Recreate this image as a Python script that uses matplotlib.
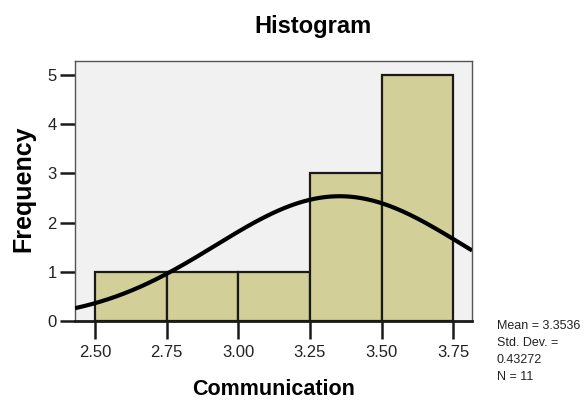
import numpy as np
import matplotlib.pyplot as plt

# histogram of Communication scores (SPSS style)
bin_edges = [2.50, 2.75, 3.00, 3.25, 3.50, 3.75]
counts = [1, 1, 1, 3, 5]
mean, sd, n = 3.3536, 0.43272, 11
xticks = [2.50, 2.75, 3.00, 3.25, 3.50, 3.75]
yticks = [0, 1, 2, 3, 4, 5]

plt.rcParams['font.family'] = ['Liberation Sans', 'DejaVu Sans']

fig = plt.figure(figsize=(5.84, 4.01), dpi=100)
ax = fig.add_axes((0.1284, 0.1995, 0.680, 0.648))
ax.set_facecolor("#f1f1f1")

lefts = bin_edges[:-1]
widths = np.diff(bin_edges)
ax.bar(lefts, counts, width=widths, align="edge", color="#d3cf99",
       edgecolor="#1a1a1a", linewidth=1.6, zorder=2)

# normal curve from the stated mean / sd, scaled to the bin width
xs = np.linspace(2.43, 3.816, 300)
bw = widths[0]
ys = n * bw / (sd * np.sqrt(2 * np.pi)) * np.exp(-0.5 * ((xs - mean) / sd) ** 2)
ax.plot(xs, ys, color="black", linewidth=3, zorder=3, solid_capstyle="butt")

ax.set_xlim(2.43, 3.816)
ax.set_ylim(0, 5.28)
ax.set_xticks(xticks)
ax.set_xticklabels([f"{t:.2f}" for t in xticks])
ax.set_yticks(yticks)
ax.tick_params(axis="x", direction="out", length=13, width=1.8, color="#1a1a1a",
               labelsize=12, pad=4, labelcolor="#222222")
ax.tick_params(axis="y", direction="out", length=11, width=1.8, color="#1a1a1a",
               labelsize=12, pad=2, labelcolor="#222222")

for side in ("top", "right", "left"):
    ax.spines[side].set_color("#555555")
    ax.spines[side].set_linewidth(1.0)
ax.spines["bottom"].set_color("#1a1a1a")
ax.spines["bottom"].set_linewidth(2.0)

fig.text(0.536, 0.935, "Histogram", fontsize=17, fontweight="bold",
         ha="center", va="center")
ax.set_xlabel("Communication", fontsize=15.5, fontweight="bold")
ax.xaxis.set_label_coords(0.5, -0.225)
fig.text(0.040, 0.530, "Frequency", fontsize=18, fontweight="bold",
         rotation=90, ha="center", va="center")

fig.text(0.851, 0.202, "Mean = 3.3536\nStd. Dev. =\n0.43272\nN = 11",
         fontsize=9, va="top", ha="left", linespacing=1.55, color="#222222")

fig.savefig("out.png", dpi=100, facecolor="white")
